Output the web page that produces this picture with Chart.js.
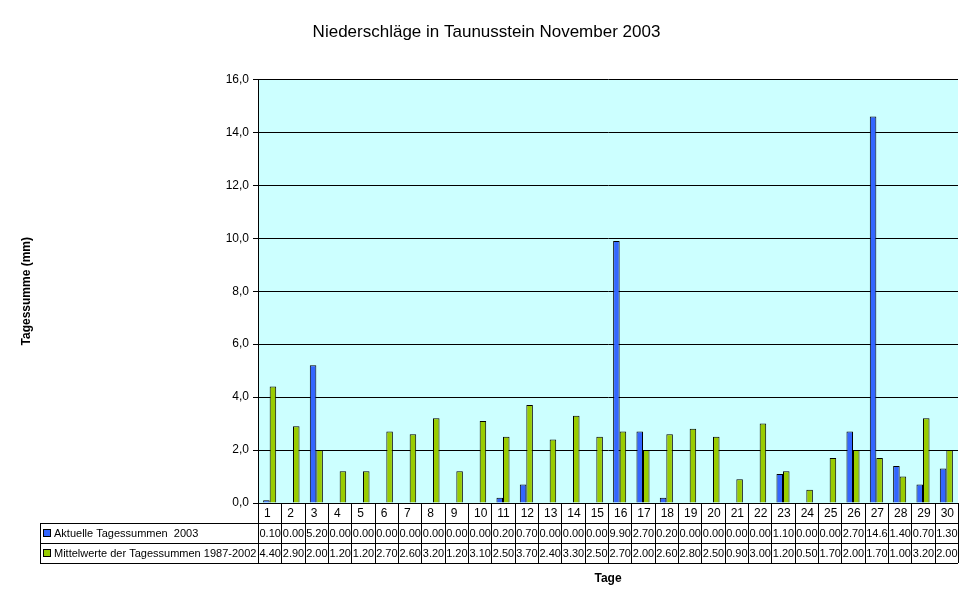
<!DOCTYPE html>
<html>
<head>
<meta charset="utf-8">
<script src="https://cdn.jsdelivr.net/npm/chart.js@4"></script>
<style>
  body { margin: 0; background: #fff; }
  #wrap { width: 970px; height: 604px; }
</style>
</head>
<body>
<div id="wrap"><canvas id="regen"></canvas></div>
<script>
const tage = ["1","2","3","4","5","6","7","8","9","10","11","12","13","14","15","16","17","18","19","20","21","22","23","24","25","26","27","28","29","30"];
const aktuell2003 = [0.1,0,5.2,0,0,0,0,0,0,0,0.2,0.7,0,0,0,9.9,2.7,0.2,0,0,0,0,1.1,0,0,2.7,14.6,1.4,0.7,1.3];
const mittel8702 = [4.4,2.9,2.0,1.2,1.2,2.7,2.6,3.2,1.2,3.1,2.5,3.7,2.4,3.3,2.5,2.7,2.0,2.6,2.8,2.5,0.9,3.0,1.2,0.5,1.7,2.0,1.7,1.0,3.2,2.0];
const seriesNames = ["Aktuelle Tagessummen  2003", "Mittelwerte der Tagessummen 1987-2002"];
const seriesColors = ["#3366FF", "#99CC00"];

const font = "Liberation Sans, Arial, sans-serif";

// Hintergrund der Zeichenflaeche
const plotBg = {
    id: "plotBg",
    beforeDraw(chart) {
        const a = chart.chartArea;
        const ctx = chart.ctx;
        ctx.save();
        ctx.fillStyle = "#CCFFFF";
        ctx.fillRect(a.left, a.top, a.right - a.left, a.bottom - a.top);
        ctx.restore();
    },
};

// Datentabelle unter dem Diagramm
const dataTable = {
    id: "dataTable",
    afterDraw(chart) {
        const ctx = chart.ctx;
        const x = chart.scales.x;
        const a = chart.chartArea;
        const rowH = 20;
        const top = a.bottom;
        const legendLeft = 40;
        const step = (a.right - a.left) / tage.length;
        const rows = [aktuell2003, mittel8702];

        ctx.save();
        ctx.strokeStyle = "#000";
        ctx.lineWidth = 1;
        ctx.fillStyle = "#000";
        ctx.textBaseline = "middle";

        // horizontale Linien
        ctx.beginPath();
        for (let k = 1; k <= 3; k++) {
            ctx.moveTo(legendLeft, top + k * rowH + 0.5);
            ctx.lineTo(a.right, top + k * rowH + 0.5);
        }
        ctx.moveTo(legendLeft + 0.5, top + rowH);
        ctx.lineTo(legendLeft + 0.5, top + 3 * rowH);
        ctx.stroke();

        // vertikale Linien
        ctx.beginPath();
        for (let i = 0; i <= tage.length; i++) {
            const lx = Math.round(a.left + i * step) + 0.5;
            ctx.moveTo(lx, top);
            ctx.lineTo(lx, top + 3 * rowH);
        }
        ctx.stroke();

        tage.forEach((t, i) => {
            const cx = x.getPixelForValue(i) - step / 2;
            ctx.textAlign = "left";
            ctx.font = "12px " + font;
            ctx.fillText(t, cx + 6, top + rowH / 2 + 1);
            ctx.font = "11px " + font;
            rows.forEach((r, j) => {
                let s = r[i].toFixed(2);
                if (r[i] >= 10) s = r[i].toFixed(1);
                ctx.fillText(s, cx + 1.5, top + rowH * (j + 1.5) + 1);
            });
        });

        // Legendenzellen
        seriesNames.forEach((n, j) => {
            const cy = top + rowH * (j + 1.5);
            ctx.fillStyle = seriesColors[j];
            ctx.fillRect(legendLeft + 3, cy - 3, 7, 7);
            ctx.strokeRect(legendLeft + 3.5, cy - 3.5, 7, 7);
            ctx.fillStyle = "#000";
            ctx.font = "11px " + font;
            ctx.fillText(n, legendLeft + 14, cy + 1);
        });
        ctx.restore();
    },
};

new Chart(document.getElementById("regen"), {
    type: "bar",
    data: {
        labels: tage,
        datasets: [
            {
                label: seriesNames[0],
                data: aktuell2003,
                backgroundColor: seriesColors[0],
                borderColor: "#000",
                borderWidth: 1,
                categoryPercentage: 0.56,
                barPercentage: 1.0,
            },
            {
                label: seriesNames[1],
                data: mittel8702,
                backgroundColor: seriesColors[1],
                borderColor: "#000",
                borderWidth: 1,
                categoryPercentage: 0.56,
                barPercentage: 1.0,
            },
        ],
    },
    options: {
        responsive: true,
        maintainAspectRatio: false,
        animation: false,
        devicePixelRatio: 1,
        layout: { padding: { left: 15, right: 12, top: 0, bottom: 18 } },
        scales: {
            x: {
                grid: { display: false, drawTicks: false },
                border: { display: false },
                ticks: { display: false },
                title: {
                    display: true,
                    text: "Tage",
                    font: { family: font, size: 12, weight: "bold" },
                    color: "#000",
                    padding: 0,
                },
                afterFit(scale) { scale.height = 83; },
            },
            y: {
                min: 0,
                max: 16,
                ticks: {
                    stepSize: 2,
                    color: "#000",
                    font: { family: font, size: 12 },
                    padding: 4,
                    callback: (v) => v.toFixed(1).replace(".", ","),
                },
                grid: { color: "#000", tickLength: 5, tickColor: "#000" },
                border: { color: "#000" },
                title: {
                    display: true,
                    text: "Tagessumme (mm)",
                    font: { family: font, size: 12, weight: "bold" },
                    color: "#000",
                    padding: 4,
                },
                afterFit(scale) { scale.width = 243; },
            },
        },
        plugins: {
            legend: { display: false },
            tooltip: { enabled: false },
            title: {
                display: true,
                text: "Niederschläge in Taunusstein November 2003",
                font: { family: font, size: 17, weight: "normal" },
                color: "#000",
                padding: { top: 22, bottom: 37 },
            },
        },
    },
    plugins: [plotBg, dataTable],
});
</script>
</body>
</html>
